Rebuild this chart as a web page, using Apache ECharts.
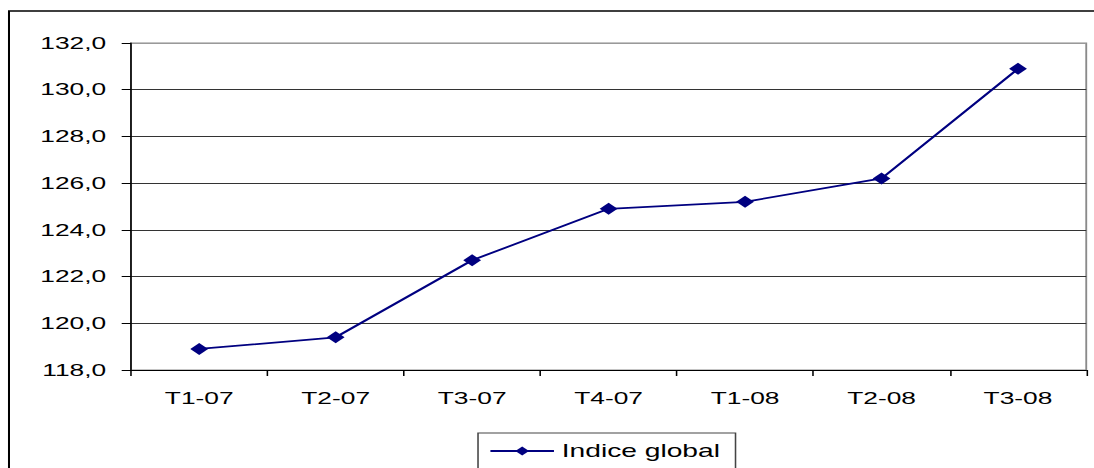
<!DOCTYPE html>
<html>
<head>
<meta charset="utf-8">
<script src="https://cdn.jsdelivr.net/npm/echarts@6/dist/echarts.min.js"></script>
<style>
html,body{margin:0;padding:0;background:#fff;overflow:hidden;}
#wrap{width:1094px;height:468px;overflow:hidden;position:relative;}
#chart{width:705.8px;height:468px;transform:scaleX(1.55);transform-origin:0 0;position:absolute;left:0;top:0;}
</style>
</head>
<body>
<div id="wrap"><div id="chart"></div></div>
<script>
const categories = ['T1-07','T2-07','T3-07','T4-07','T1-08','T2-08','T3-08'];
const indiceGlobal = [118.9, 119.4, 122.7, 124.9, 125.2, 126.2, 130.9];
const seriesName = 'Indice global';
const yMin = 118, yMax = 132, yStep = 2;

const FONT = "'Liberation Sans', Arial, sans-serif";
const chart = echarts.init(document.getElementById('chart'), null, {renderer: 'svg'});
const gridColors = ['#333','#333','#333','#333','#333','#333','#333','#999'];
chart.setOption({
  animation: false,
  backgroundColor: '#fff',
  textStyle: {fontFamily: FONT},
  graphic: [{
    type: 'rect',
    shape: {x: 5.8, y: 11, width: 800, height: 600},
    style: {fill: 'none', stroke: '#000', lineWidth: 1.3},
    silent: true, z: 100
  }],
  grid: {left: 84.5, right: 5.2, top: 43, bottom: 98, show: true, borderColor: '#8a8a8a', borderWidth: 1.2, backgroundColor: 'transparent'},
  legend: {
    data: [seriesName],
    left: 308.4, top: 433,
    padding: [9, 10, 9, 7],
    borderColor: '#444', borderWidth: 1,
    itemWidth: 41, itemHeight: 11,
    textStyle: {fontSize: 18.2, color: '#000', fontFamily: FONT}
  },
  xAxis: {
    type: 'category',
    data: categories,
    boundaryGap: true,
    axisLine: {lineStyle: {color: '#000', width: 1}},
    axisTick: {show: true, length: 6, lineStyle: {color: '#000'}},
    axisLabel: {fontSize: 17, color: '#000', margin: 20, fontFamily: FONT},
    splitLine: {show: false}
  },
  yAxis: {
    type: 'value',
    min: yMin, max: yMax, interval: yStep,
    axisLine: {show: true, lineStyle: {color: '#000', width: 1}},
    axisTick: {show: true, length: 6, lineStyle: {color: '#000'}},
    axisLabel: {fontSize: 17, color: '#000', margin: 16, fontFamily: FONT,
      formatter: v => v.toFixed(1).replace('.', ',')},
    splitLine: {show: true, lineStyle: {color: gridColors, width: 1}}
  },
  series: [{
    name: seriesName,
    type: 'line',
    data: indiceGlobal,
    symbol: 'diamond',
    symbolSize: [11.5, 12],
    showAllSymbol: true,
    lineStyle: {color: '#000080', width: 1.8},
    itemStyle: {color: '#000080', borderWidth: 0}
  }]
});
</script>
</body>
</html>
